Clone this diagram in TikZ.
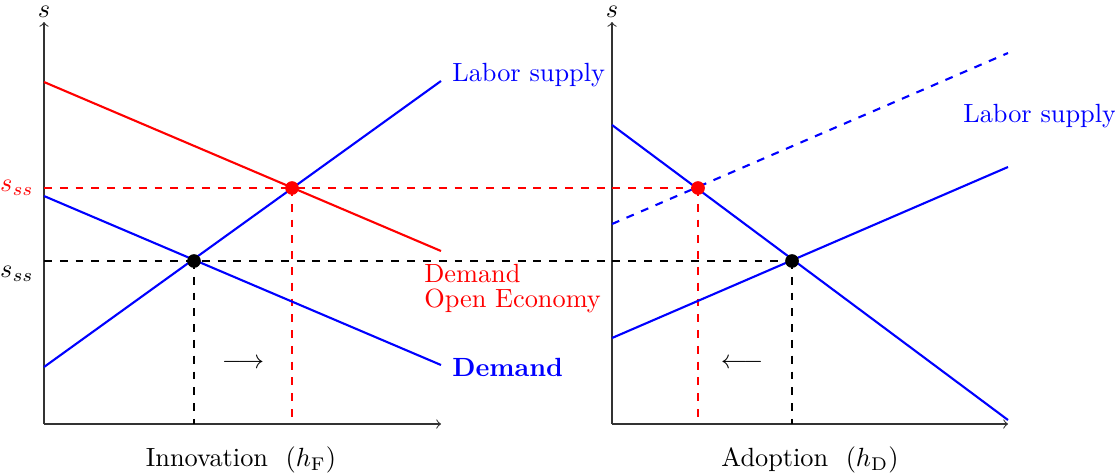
\documentclass[tikz,border=0pt]{standalone}
\usetikzlibrary{calc}
\begin{document}
\begin{tikzpicture}[x=0.38pt,y=-0.38pt,
	axis/.style={->, color=black!80},
	curve/.style={thick, color=blue},
	guide/.style={thick, dashed},
	eqdot/.style={circle, fill, inner sep=0pt, minimum size=5.2pt}]
	\useasboundingbox (0,0) rectangle (1115,474);
	% axes
	\coordinate (O1) at (44,424);
	\coordinate (O2) at (612,424);
	\draw[axis] (O1) -- (441,424);
	\draw[axis] (O1) -- (44,22);
	\draw[axis] (O2) -- (1008,424);
	\draw[axis] (O2) -- (612,22);
	\node[inner sep=1pt] (sA) at (44,12) {$s$};
	\node[inner sep=1pt] (sB) at (612,12) {$s$};
	% equilibria
	\coordinate (eqB1) at (194,261);
	\coordinate (eqR1) at (292,188);
	\coordinate (eqR2) at (698,188);
	\coordinate (eqB2) at (792,261);
	% guide lines
	\draw[guide, red] (O1 |- eqR1) -- (eqR2);
	\draw[guide] (O1 |- eqB1) -- (eqB2);
	\draw[guide] (eqB1) -- (eqB1 |- O1);
	\draw[guide, red] (eqR1) -- (eqR1 |- O1);
	\draw[guide, red] (eqR2) -- (eqR2 |- O2);
	\draw[guide] (eqB2) -- (eqB2 |- O2);
	% innovation
	\draw[thick, red] (44,82) -- (441,251);
	\draw[curve] (44,367) -- (441,81);
	\draw[curve] (44,196) -- (441,365);
	% adoption
	\draw[curve, dashed] (612,224) -- (1008,53);
	\draw[curve] (612,338) -- (1008,167);
	\draw[curve] (612,125) -- (1008,420);
	\node[eqdot, black] at (eqB1) {};
	\node[eqdot, red] at (eqR1) {};
	\node[eqdot, red] at (eqR2) {};
	\node[eqdot, black] at (eqB2) {};
	% labels
	\node[red, anchor=east] (ssRed) at (43,188) {$s_{ss}$};
	\node[anchor=east] (ssBlack) at (43,274) {$s_{ss}$};
	\node[blue, anchor=west] (supA) at (443,75) {Labor supply};
	\node[blue, anchor=west] (supB) at (954,116) {Labor supply};
	\node[blue, anchor=west, font=\bfseries] (demA) at (443,367) {Demand};
	\node[red, anchor=west, align=left] (demOpen) at (415,289) {Demand\\[-2.5pt]Open Economy};
	\node (arrA) at (243,364) {$\longrightarrow$};
	\node (arrB) at (742,364) {$\longleftarrow$};
	\node (xA) at (241,460) {Innovation~~$(h_{\mathrm{F}})$};
	\node (xB) at (810,460) {Adoption~~$(h_{\mathrm{D}})$};
\end{tikzpicture}
\end{document}
